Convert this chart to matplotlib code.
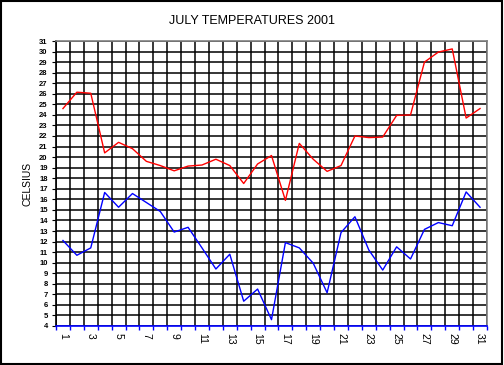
#!/usr/bin/env python3
"""July 2001 daily max/min temperatures, old spreadsheet-chart look."""

import matplotlib

matplotlib.use("Agg")
import matplotlib.pyplot as plt
from matplotlib.patches import Rectangle
from matplotlib.ticker import FixedLocator, NullFormatter

plt.rcParams["font.family"] = ["Liberation Sans", "DejaVu Sans"]

days = list(range(1, 32))
max_temp = [24.6, 26.15, 26.05, 20.4, 21.4, 20.8, 19.6, 19.2, 18.7, 19.15,
            19.25, 19.8, 19.2, 17.5, 19.35, 20.15, 15.9, 21.3, 19.8, 18.65,
            19.2, 22.0, 21.85, 21.9, 23.95, 24.0, 29.0, 29.95, 30.25, 23.7,
            24.6]
min_temp = [12.1, 10.7, 11.4, 16.65, 15.25, 16.55, 15.7, 14.85, 12.9, 13.35,
            11.4, 9.4, 10.8, 6.35, 7.5, 4.6, 11.9, 11.4, 9.95, 7.15,
            12.85, 14.35, 11.2, 9.3, 11.5, 10.35, 13.15, 13.8, 13.5, 16.7,
            15.25]
y_ticks = list(range(4, 32))
x_labels = list(range(1, 32, 2))

fig = plt.figure(figsize=(5.04, 3.65), dpi=100)
fig.patch.set_facecolor("white")
ax = fig.add_axes([56 / 504, 39 / 365, 431 / 504, 285 / 365])

ax.plot(days, max_temp, color="#ff0000", lw=1.0, zorder=3)
ax.plot(days, min_temp, color="#0000ff", lw=1.0, zorder=3)

ax.set_xlim(0.5, 31.5)
ax.set_ylim(4, 31)

# grid: horizontal at every degree, vertical between days
ax.set_yticks(y_ticks)
ax.set_yticklabels([str(v) for v in y_ticks], fontsize=5.5, fontweight="bold")
ax.tick_params(axis="y", length=3, width=0.8, color="black", pad=3)

bounds = [d + 0.5 for d in range(0, 32)]
ax.xaxis.set_major_locator(FixedLocator(bounds))
ax.xaxis.set_major_formatter(NullFormatter())
ax.xaxis.set_minor_locator(FixedLocator(x_labels))
ax.set_xticklabels([str(v) for v in x_labels], minor=True, rotation=270,
                   fontsize=7.5)
ax.tick_params(axis="x", which="major", length=3, width=1, color="#0000ff")
ax.tick_params(axis="x", which="minor", length=0, pad=5)

ax.grid(True, which="major", color="black", lw=1.1)
ax.set_axisbelow(True)

ax.spines["top"].set_color("#808080")
ax.spines["right"].set_color("#808080")
ax.spines["left"].set_color("black")
ax.spines["bottom"].set_color("#0000ff")
for s in ax.spines.values():
    s.set_linewidth(1.2)

ax.set_ylabel("CELSIUS", fontsize=7.5, labelpad=5)
fig.text(0.5, 1 - 21 / 365, "JULY TEMPERATURES 2001", ha="center",
         va="center", fontsize=9)

fig.add_artist(Rectangle((0.001, 0.002), 0.996, 0.996, transform=fig.transFigure,
                         fill=False, edgecolor="black", lw=1.5))

fig.savefig("out.png", dpi=100)
